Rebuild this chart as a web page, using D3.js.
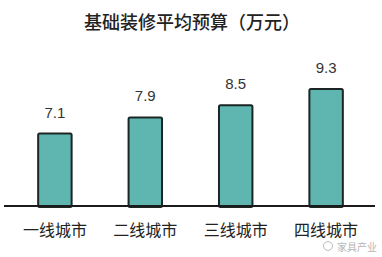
<!DOCTYPE html>
<html>
<head>
<meta charset="utf-8">
<script src="https://cdn.jsdelivr.net/npm/d3@7"></script>
<style>
  html, body { margin: 0; padding: 0; background: #fff; }
  svg { display: block; }
</style>
</head>
<body>
<svg id="chart" width="382" height="257"></svg>
<script>
const categories = ["一线城市", "二线城市", "三线城市", "四线城市"]
const values = [7.1, 7.9, 8.5, 9.3]
const title = "基础装修平均预算（万元）"
const watermark = "家具产业"

const width = 382
const height = 257
const margin = { top: 0, right: 7, bottom: 51, left: 4 }
const baseline = height - margin.bottom

const svg = d3.select("#chart")

// Title
svg.append("text")
  .attr("x", 192)
  .attr("y", 29)
  .attr("text-anchor", "middle")
  .attr("font-family", "'Noto Sans CJK SC', sans-serif")
  .attr("font-size", 18)
  .attr("font-weight", 500)
  .attr("fill", "#222")
  .text(title)

// Scales
const x = d3.scaleBand()
  .domain(categories)
  .range([margin.left - 2, width - margin.right + 4])
  .paddingInner(0.63)
  .paddingOuter(0.4)

const y = d3.scaleLinear()
  .domain([3.53, 9.3])
  .range([baseline, baseline - 117])

// Bars
svg.selectAll(".bar")
  .data(values)
  .enter()
  .append("rect")
  .attr("class", "bar")
  .attr("x", (d, i) => x(categories[i]))
  .attr("y", (d) => y(d))
  .attr("width", x.bandwidth())
  .attr("height", (d) => baseline - y(d) + 1)
  .attr("rx", 1.5)
  .attr("fill", "#5fb6b1")
  .attr("stroke", "#1b2624")
  .attr("stroke-width", 2)

// Value labels
svg.selectAll(".val")
  .data(values)
  .enter()
  .append("text")
  .attr("class", "val")
  .attr("x", (d, i) => x(categories[i]) + x.bandwidth() / 2)
  .attr("y", (d) => y(d) - 16)
  .attr("text-anchor", "middle")
  .attr("font-family", "'Liberation Sans', Arial, sans-serif")
  .attr("font-size", 15)
  .attr("fill", "#333")
  .text((d) => d.toFixed(1))

// Baseline axis
const axis = svg.append("g")
  .attr("transform", `translate(0,${baseline})`)
  .call(d3.axisBottom(x).tickSize(0).tickPadding(19))

axis.select(".domain")
  .attr("d", `M${margin.left},0H${width - margin.right}`)
  .attr("stroke", "#1b1b1b")
  .attr("stroke-width", 2)

axis.selectAll("text")
  .attr("font-family", "'Noto Sans CJK SC', sans-serif")
  .attr("font-size", 16)
  .attr("fill", "#222")

// Watermark
const wm = svg.append("g").attr("opacity", 0.55)
wm.append("circle").attr("cx", 328).attr("cy", 246).attr("r", 4.5)
  .attr("fill", "none").attr("stroke", "#888").attr("stroke-width", 1)
wm.append("text")
  .attr("x", 337)
  .attr("y", 251)
  .attr("font-family", "'Noto Sans CJK SC', sans-serif")
  .attr("font-size", 10)
  .attr("fill", "#777")
  .text(watermark)
</script>
</body>
</html>
